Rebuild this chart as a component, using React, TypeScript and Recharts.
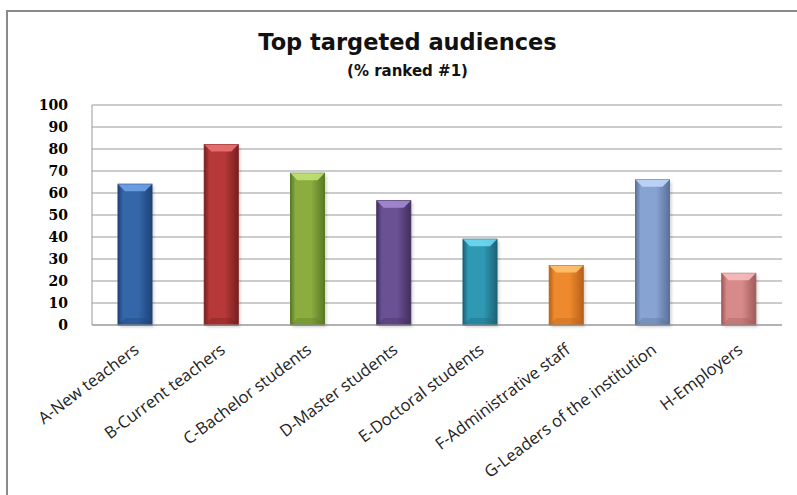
import React from 'react';
import { BarChart, Bar, XAxis, YAxis, CartesianGrid, Cell } from 'recharts';

const categories = [
  'A-New teachers',
  'B-Current teachers',
  'C-Bachelor students',
  'D-Master students',
  'E-Doctoral students',
  'F-Administrative staff',
  'G-Leaders of the institution',
  'H-Employers',
];
const values = [64, 82, 69, 56.5, 39, 27, 66, 23.5];
const yTicks = [0, 10, 20, 30, 40, 50, 60, 70, 80, 90, 100];

// base / edge / highlight per bar
const baseColors = ['#3566a9', '#b73838', '#8bad40', '#6a5194', '#2f99b4', '#ee8a2d', '#87a3d2', '#d88a8a'];
const edgeColors = ['#1e4277', '#7a1f1f', '#5a7a25', '#41305e', '#1b6377', '#b6611a', '#5a7199', '#a05a5a'];
const lightColors = ['#6fa3e8', '#ea7272', '#c0e274', '#a48ad2', '#70d8f2', '#ffc272', '#c0d7fa', '#f6bcbc'];

const chartData = categories.map((name, i) => ({ name, value: values[i] }));

const BarShape = (props: any) => {
  const { x, y, width, height, index } = props;
  if (!height || height <= 0) return null;
  const b = Math.min(7, width / 4, height / 3);
  return (
    <g>
      <rect x={x + 2} y={y + 2} width={width} height={height} fill="rgba(0,0,0,0.18)" filter="url(#barShadow)" />
      <rect x={x} y={y} width={width} height={height} fill={`url(#barGrad${index})`} stroke={edgeColors[index]} strokeWidth={1} />
      <polygon
        points={`${x},${y} ${x + width},${y} ${x + width - b},${y + b} ${x + b},${y + b}`}
        fill={lightColors[index]}
        opacity={0.9}
      />
      <polygon
        points={`${x},${y + height} ${x + width},${y + height} ${x + width - b},${y + height - b} ${x + b},${y + height - b}`}
        fill={edgeColors[index]}
        opacity={0.35}
      />
    </g>
  );
};

const XTick = (props: any) => {
  const { x, y, payload } = props;
  return (
    <g transform={`translate(${x + 5},${y + 19})`}>
      <text
        transform="rotate(-37)"
        textAnchor="end"
        fill="#222"
        fontSize={16.5}
        fontFamily="'Open Sans', sans-serif"
      >
        {payload.value}
      </text>
    </g>
  );
};

export default function App() {
  return (
    <div style={{ position: 'absolute', left: 0, top: 0, width: 797, height: 495, background: '#fff', overflow: 'hidden' }}>
      <div
        style={{
          position: 'absolute',
          left: 6,
          top: 10,
          width: 820,
          height: 520,
          borderLeft: '2px solid #8a8a8a',
          borderTop: '2px solid #8a8a8a',
        }}
      />
      <div
        style={{
          position: 'absolute',
          left: 0,
          width: 815,
          top: 29,
          textAlign: 'center',
          fontFamily: "'DejaVu Sans', sans-serif",
          fontWeight: 'bold',
          fontSize: 22.5,
          color: '#111',
        }}
      >
        Top targeted audiences
      </div>
      <div
        style={{
          position: 'absolute',
          left: 0,
          width: 815,
          top: 62,
          textAlign: 'center',
          fontFamily: "'DejaVu Sans', sans-serif",
          fontWeight: 'bold',
          fontSize: 15,
          color: '#111',
        }}
      >
        (% ranked #1)
      </div>
      <div style={{ position: 'absolute', left: 0, top: 0 }}>
        <BarChart width={797} height={495} data={chartData} margin={{ top: 105, right: 15, bottom: 0, left: 0 }} barSize={34}>
          <defs>
            {baseColors.map((c, i) => (
              <linearGradient key={i} id={`barGrad${i}`} x1="0" y1="0" x2="1" y2="0">
                <stop offset="0%" stopColor={edgeColors[i]} />
                <stop offset="15%" stopColor={c} />
                <stop offset="60%" stopColor={c} />
                <stop offset="100%" stopColor={edgeColors[i]} />
              </linearGradient>
            ))}
            <filter id="barShadow" x="-20%" y="-20%" width="140%" height="140%">
              <feGaussianBlur stdDeviation="1.5" />
            </filter>
          </defs>
          <CartesianGrid vertical={false} stroke="#999" strokeWidth={1} />
          <XAxis
            dataKey="name"
            interval={0}
            tickLine={false}
            axisLine={{ stroke: '#999' }}
            height={170}
            tick={<XTick />}
          />
          <YAxis
            domain={[0, 100]}
            ticks={yTicks}
            interval={0}
            width={92}
            tickLine={false}
            tickSize={0}
            tickMargin={24}
            axisLine={{ stroke: '#999' }}
            tick={{ fill: '#000', fontSize: 14, fontWeight: 'bold', fontFamily: "'DejaVu Serif', serif" }}
          />
          <Bar dataKey="value" isAnimationActive={false} shape={<BarShape />}>
            {chartData.map((_, i) => (
              <Cell key={i} fill={baseColors[i]} />
            ))}
          </Bar>
        </BarChart>
      </div>
    </div>
  );
}
